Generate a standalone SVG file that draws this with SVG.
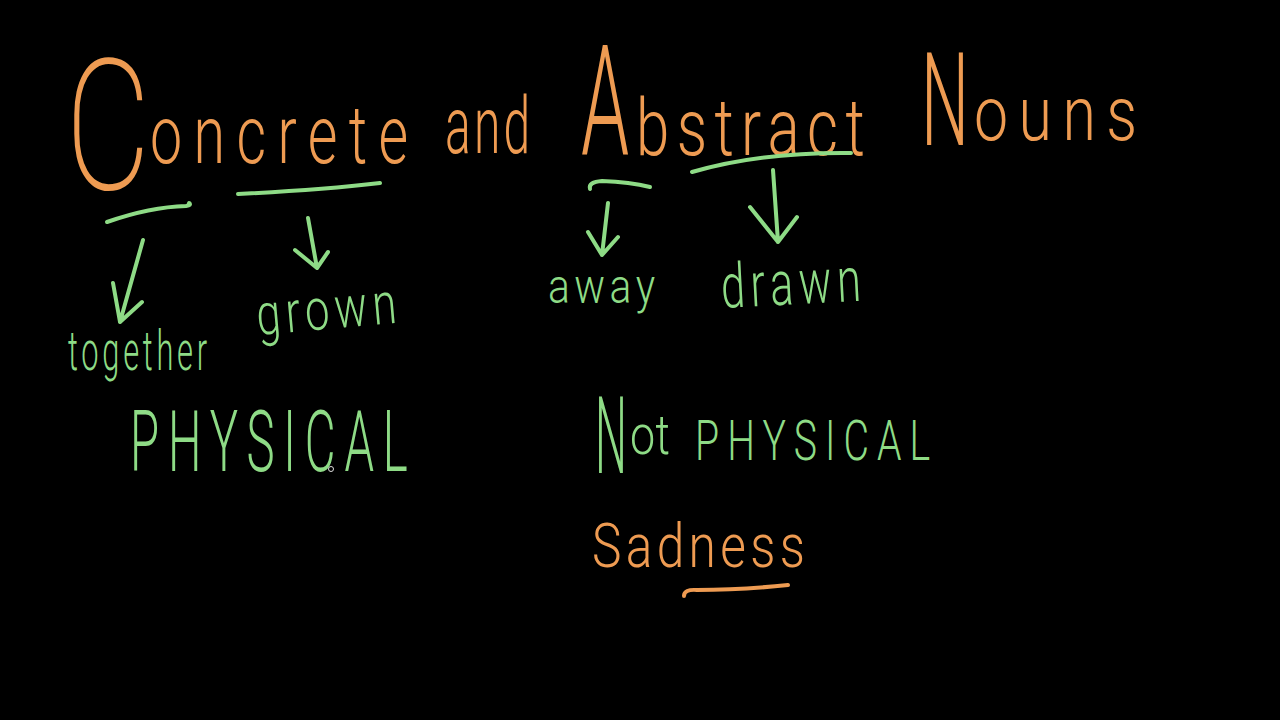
<svg xmlns="http://www.w3.org/2000/svg" width="1280" height="720" viewBox="0 0 1280 720">
<style>
.o{fill:#EE9B52;font-family:Roboto,"Liberation Sans",sans-serif;font-weight:300}
.g{fill:#8EDB86;font-family:Roboto,"Liberation Sans",sans-serif;font-weight:300}
.t{font-weight:100;stroke:#EE9B52;stroke-width:2.2}
.ln{fill:none;stroke:#8EDB86;stroke-width:4;stroke-linecap:round;stroke-linejoin:round}
.lo{fill:none;stroke:#EE9B52;stroke-width:4;stroke-linecap:round;stroke-linejoin:round}
</style>
<rect width="1280" height="720" fill="#000"/>
<g id="title">
<text class="o t" font-size="180" transform="translate(66,188) scale(0.72,1)">C</text>
<text class="o" font-size="82" transform="translate(150,163) scale(0.7,1)" textLength="369" lengthAdjust="spacing">oncrete</text>
<text class="o" font-size="80" transform="translate(445,153) scale(0.6,1)" textLength="142" lengthAdjust="spacing">and</text>
<text class="o" font-size="154" transform="translate(581,155) scale(0.5,1)">A</text>
<text class="o" font-size="80" transform="translate(636,155) scale(0.75,1)" textLength="305" lengthAdjust="spacing">bstract</text>
<text class="o" font-size="130" transform="translate(921,145) scale(0.52,1)">N</text>
<text class="o" font-size="76" transform="translate(974,140) scale(0.8,1)" textLength="204" lengthAdjust="spacing">ouns</text>
</g>
<g id="connectors">
<path class="ln" d="M107,222 Q150,207 186,206 Q192,205 189,203"/>
<path class="ln" d="M238,194 Q320,190 380,183"/>
<path class="ln" d="M590,189 Q588,182 602,181 Q630,182 650,187"/>
<path class="ln" d="M692,172 Q760,152 851,153"/>
<path class="ln" d="M143,240 L120,322 M113,283 L120,322 L142,302"/>
<path class="ln" d="M308,218 L317,268 M295,250 L317,268 L328,252"/>
<path class="ln" d="M608,203 L602,255 M588,232 L602,255 L618,237"/>
<path class="ln" d="M773,170 L778,242 M750,207 L778,242 L797,217"/>
<path class="lo" d="M684,596 Q684,589 697,590 Q740,590 788,585"/>
</g>
<g id="concrete-words">
<text class="g" font-size="56" transform="translate(68,370) scale(0.55,1)" textLength="253" lengthAdjust="spacing">together</text>
<text class="g" font-size="58" transform="translate(258,335) rotate(-5) scale(0.75,1)" textLength="187" lengthAdjust="spacing">grown</text>
<text class="g" font-size="86" transform="translate(130,471) scale(0.55,1)" textLength="505" lengthAdjust="spacing">PHYSICAL</text>
</g>
<g id="abstract-words">
<text class="g" font-size="48" transform="translate(548,303) scale(0.85,1)" textLength="126" lengthAdjust="spacing">away</text>
<text class="g" font-size="62" transform="translate(722,308) rotate(-3) scale(0.7,1)" textLength="200" lengthAdjust="spacing">drawn</text>
<text class="g" font-size="107" transform="translate(595,473) scale(0.42,1)">N</text>
<text class="g" font-size="56" transform="translate(630,454) scale(0.8,1)" textLength="50" lengthAdjust="spacing">ot</text>
<text class="g" font-size="56" transform="translate(695,460) scale(0.7,1)" textLength="336" lengthAdjust="spacing">PHYSICAL</text>
<text class="o" font-size="62" transform="translate(592,567) scale(0.8,1)" textLength="266" lengthAdjust="spacing">Sadness</text>
</g>
<circle cx="331" cy="469" r="2.5" fill="none" stroke="#ddd" stroke-width="1"/>
</svg>
